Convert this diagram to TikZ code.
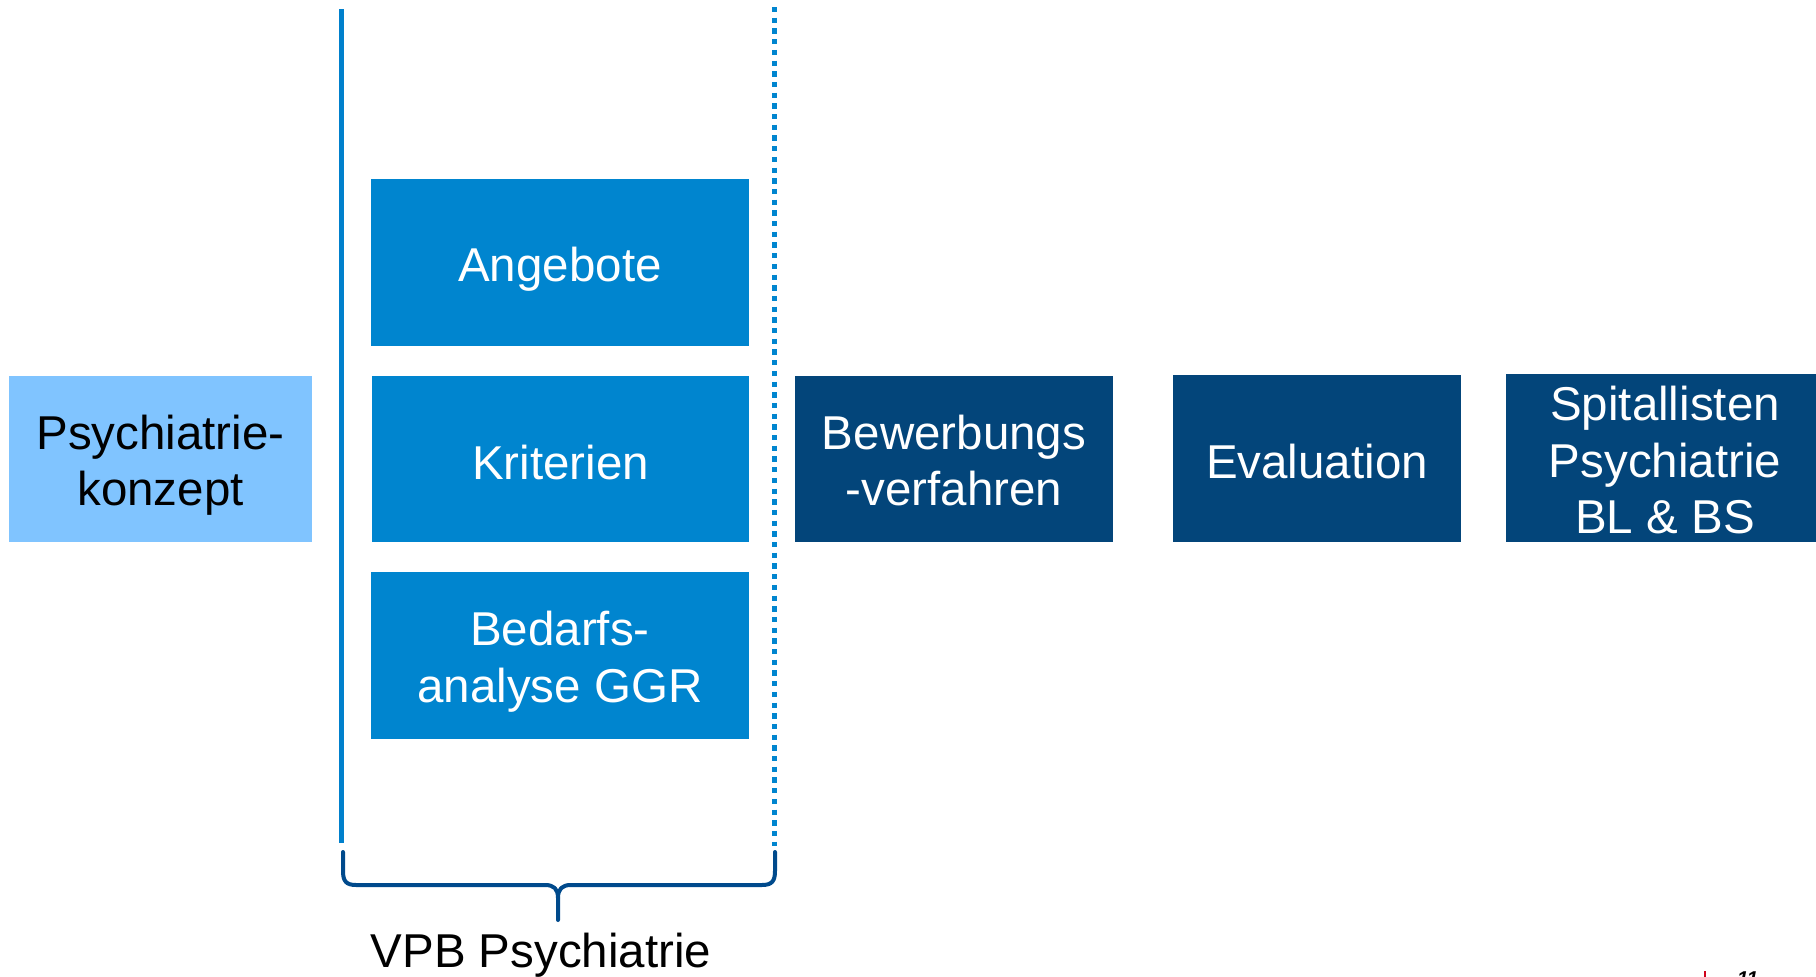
\documentclass[tikz,border=0pt]{standalone}
\usepackage{fontspec}
\setmainfont{Liberation Sans}
\definecolor{lightblue}{HTML}{80C4FF}
\definecolor{midblue}{HTML}{0085CF}
\definecolor{linebluecol}{HTML}{0080CC}
\definecolor{darkblue}{HTML}{03457A}
\definecolor{bracecol}{HTML}{004A8C}
\definecolor{tickred}{HTML}{D0021B}

\begin{document}
\begin{tikzpicture}[x=1pt,y=-1pt,
  box/.style={rectangle, draw=none, inner sep=0pt},
  lightbox/.style={box, fill=lightblue},
  midbox/.style={box, fill=midblue},
  darkbox/.style={box, fill=darkblue},
  boxtext/.style={inner sep=0pt, align=center, text=white,
    font=\fontsize{47.5}{56.5}\selectfont},
  separator/.style={linebluecol, line width=4.5pt},
  dotsep/.style={midblue, line width=5pt, dash pattern=on 5.3pt off 5.4pt},
  bracket/.style={bracecol, line width=4pt, line cap=round, line join=round},
]
\useasboundingbox (0,0) rectangle (1816,977);
\clip (0,0) rectangle (1816,977);

% boxes
\node[lightbox, minimum width=303pt, minimum height=166pt] (konzept) at (160.5,459) {};
\node[midbox, minimum width=378pt, minimum height=167pt] (angebote) at (560,262.5) {};
\node[midbox, minimum width=377pt, minimum height=166pt] (kriterien) at (560.5,459) {};
\node[midbox, minimum width=378pt, minimum height=167pt] (bedarf) at (560,655.5) {};
\node[darkbox, minimum width=318pt, minimum height=166pt] (bewerbung) at (954,459) {};
\node[darkbox, minimum width=288pt, minimum height=167pt] (evaluation) at (1317,458.5) {};
\node[darkbox, minimum width=318pt, minimum height=168pt] (spital) at (1665,458) {};

% box labels
\node[boxtext, text=black] (konzept-t) at ([yshift=-6pt]konzept.center) {Psychiatrie-\\konzept};
\node[boxtext] (angebote-t) at ([yshift=-7pt]angebote.center) {Angebote};
\node[boxtext] (kriterien-t) at ([yshift=-3.5pt]kriterien.center) {Kriterien};
\node[boxtext] (bedarf-t) at ([yshift=-6pt]bedarf.center) {Bedarfs-\\analyse GGR};
\node[boxtext] (bewerbung-t) at ([yshift=-1.5pt]bewerbung.center) {Bewerbungs\\-verfahren};
\node[boxtext] (evaluation-t) at ([yshift=-3.5pt]evaluation.center) {Evaluation};
\node[boxtext] (spital-t) at ([yshift=-2.5pt]spital.center) {Spitallisten\\Psychiatrie\\BL \& BS};

% separators around the VPB block
\coordinate (sep-top) at (341.5,9);
\coordinate (sep-bot) at (341.5,843);
\coordinate (dot-top) at (774.3,7);
\coordinate (dot-bot) at (774.3,846);
\draw[separator] (sep-top) -- (sep-bot);
\draw[dotsep] (dot-top) -- (dot-bot);

% curly bracket under the block
\draw[bracket] (343,852) -- (343,871)
  .. controls (343,881) and (346,885) .. (356,885) -- (545,885)
  .. controls (554,885) and (558,889) .. (558,898) -- (558,920);
\draw[bracket] (558,898)
  .. controls (558,889) and (562,885) .. (571,885) -- (762,885)
  .. controls (772,885) and (775,881) .. (775,871) -- (775,852);

\node[inner sep=0pt, font=\fontsize{47.5}{56}\selectfont] (vpb) at (541,955) {VPB Psychiatrie};

% page number and marker
\draw[tickred, line width=2pt] (1705,971) -- (1705,990);
\node[inner sep=0pt, anchor=north west, font=\bfseries\itshape\fontsize{20}{24}\selectfont] (pageno) at (1737,971.5) {11};
\end{tikzpicture}
\end{document}
